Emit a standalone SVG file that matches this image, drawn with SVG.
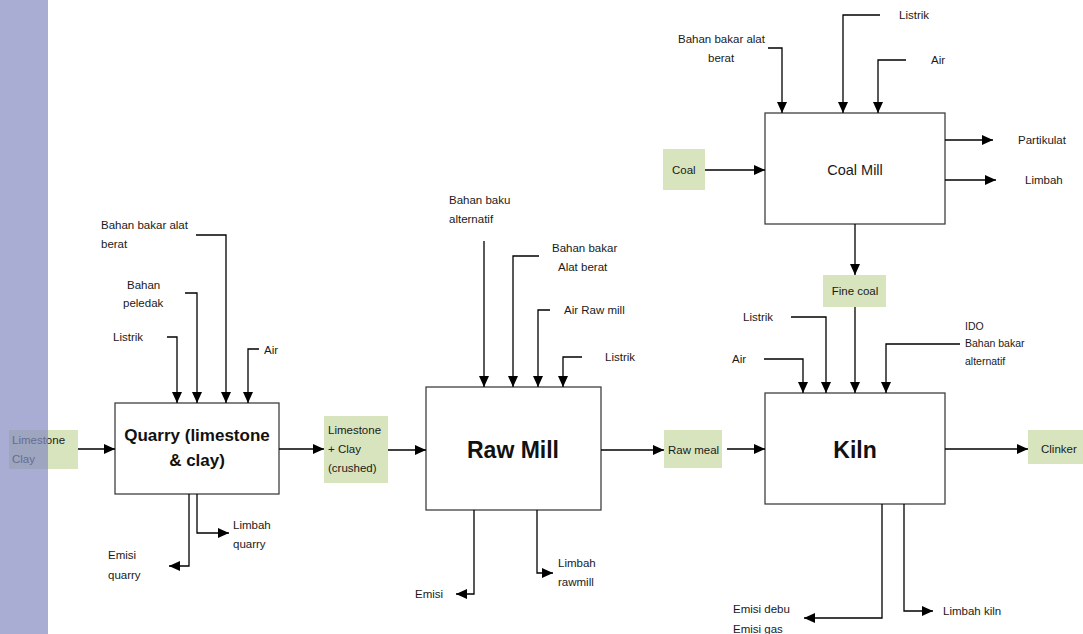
<svg xmlns="http://www.w3.org/2000/svg" width="1083" height="634" viewBox="0 0 1083 634">
  <style>
    .box { fill: #ffffff; stroke: #404040; stroke-width: 1.3; }
    .tag { fill: #d7e4bd; stroke: none; }
    .lbl { font-family: "Liberation Sans", Arial, sans-serif; font-size: 11.5px; fill: #1a1a1a; }
    .sm { font-size: 10.5px; }
    .big { font-family: "Liberation Sans", Arial, sans-serif; font-weight: bold; fill: #111; text-anchor: middle; }
    .mid { font-family: "Liberation Sans", Arial, sans-serif; font-size: 14.5px; fill: #1a1a1a; text-anchor: middle; }
    .flow { fill: none; stroke: #000; stroke-width: 1.3; marker-end: url(#head); }
  </style>
  <defs>
    <marker id="head" markerUnits="userSpaceOnUse" markerWidth="12" markerHeight="10" refX="11" refY="5" orient="auto">
      <path d="M0,0 L11,5 L0,10 z" fill="#000"/>
    </marker>
  </defs>

  <rect width="1083" height="634" fill="#ffffff"/>

  <!-- raw material input -->
  <g id="input-limestone-clay">
    <rect class="tag" x="9" y="430" width="69" height="39"/>
    <text class="lbl" x="12" y="444">Limestone</text>
    <text class="lbl" x="12" y="463">Clay</text>
  </g>

  <!-- left side band -->
  <rect x="0" y="0" width="48" height="634" fill="#848ac0" opacity="0.7"/>

  <!-- Quarry -->
  <g id="quarry">
    <rect class="box" x="115" y="403" width="164" height="91"/>
    <text class="big" font-size="17" x="197" y="441">Quarry (limestone</text>
    <text class="big" font-size="17" x="197" y="466">&amp; clay)</text>
  </g>
  <g id="quarry-labels">
    <text class="lbl" x="101" y="229">Bahan bakar alat</text>
    <text class="lbl" x="101" y="248">berat</text>
    <text class="lbl" x="127" y="289">Bahan</text>
    <text class="lbl" x="123" y="307">peledak</text>
    <text class="lbl" x="113" y="341">Listrik</text>
    <text class="lbl" x="264" y="354">Air</text>
    <text class="lbl" x="233" y="529">Limbah</text>
    <text class="lbl" x="233" y="548">quarry</text>
    <text class="lbl" x="108" y="559">Emisi</text>
    <text class="lbl" x="108" y="579">quarry</text>
  </g>

  <!-- crushed material -->
  <g id="crushed">
    <rect class="tag" x="324" y="416" width="64" height="67"/>
    <text class="lbl" x="328" y="434">Limestone</text>
    <text class="lbl" x="328" y="453">+ Clay</text>
    <text class="lbl" x="328" y="472">(crushed)</text>
  </g>

  <!-- Raw Mill -->
  <g id="raw-mill">
    <rect class="box" x="426" y="387" width="175" height="123"/>
    <text class="big" font-size="23" x="513" y="458">Raw Mill</text>
  </g>
  <g id="raw-mill-labels">
    <text class="lbl" x="449" y="204">Bahan baku</text>
    <text class="lbl" x="449" y="223">alternatif</text>
    <text class="lbl" x="552" y="252">Bahan bakar</text>
    <text class="lbl" x="558" y="271">Alat berat</text>
    <text class="lbl" x="564" y="314">Air Raw mill</text>
    <text class="lbl" x="605" y="361">Listrik</text>
    <text class="lbl" x="415" y="598">Emisi</text>
    <text class="lbl" x="558" y="567">Limbah</text>
    <text class="lbl" x="558" y="586">rawmill</text>
  </g>

  <!-- raw meal -->
  <g id="raw-meal">
    <rect class="tag" x="664" y="430" width="58" height="38"/>
    <text class="lbl" x="668" y="454">Raw meal</text>
  </g>

  <!-- Coal Mill -->
  <g id="coal">
    <rect class="tag" x="663" y="149" width="42" height="41"/>
    <text class="lbl" x="672" y="174">Coal</text>
  </g>
  <g id="coal-mill">
    <rect class="box" x="765" y="113" width="180" height="111"/>
    <text class="mid" x="855" y="175">Coal Mill</text>
  </g>
  <g id="coal-mill-labels">
    <text class="lbl" x="678" y="43">Bahan bakar alat</text>
    <text class="lbl" x="708" y="62">berat</text>
    <text class="lbl" x="899" y="19">Listrik</text>
    <text class="lbl" x="931" y="64">Air</text>
    <text class="lbl" x="1018" y="144">Partikulat</text>
    <text class="lbl" x="1025" y="184">Limbah</text>
  </g>

  <g id="fine-coal">
    <rect class="tag" x="823" y="275" width="63" height="32"/>
    <text class="lbl" x="855" y="295" text-anchor="middle">Fine coal</text>
  </g>

  <!-- Kiln -->
  <g id="kiln">
    <rect class="box" x="765" y="393" width="180" height="111"/>
    <text class="big" font-size="23" x="855" y="458">Kiln</text>
  </g>
  <g id="kiln-labels">
    <text class="lbl" x="743" y="321">Listrik</text>
    <text class="lbl" x="732" y="363">Air</text>
    <text class="lbl sm" x="965" y="330">IDO</text>
    <text class="lbl sm" x="965" y="347">Bahan bakar</text>
    <text class="lbl sm" x="965" y="365">alternatif</text>
    <text class="lbl" x="733" y="613">Emisi debu</text>
    <text class="lbl" x="733" y="633">Emisi gas</text>
    <text class="lbl" x="943" y="615">Limbah kiln</text>
  </g>

  <g id="clinker">
    <rect class="tag" x="1028" y="430" width="55" height="34"/>
    <text class="lbl" x="1041" y="453">Clinker</text>
  </g>

  <!-- connectors -->
  <g id="connectors">
    <!-- quarry -->
    <path class="flow" d="M78,449 H115"/>
    <path class="flow" d="M167,337 H177 V403"/>
    <path class="flow" d="M185,293 H197 V403"/>
    <path class="flow" d="M196,235 H226 V403"/>
    <path class="flow" d="M259,349 H248 V403"/>
    <path class="flow" d="M189,494 V566 H169"/>
    <path class="flow" d="M197,494 V533 H229"/>
    <path class="flow" d="M279,449 H324"/>
    <!-- raw mill -->
    <path class="flow" d="M388,450 H426"/>
    <path class="flow" d="M484,241 V387"/>
    <path class="flow" d="M539,256 H513 V387"/>
    <path class="flow" d="M550,310 H538 V387"/>
    <path class="flow" d="M582,357 H563 V387"/>
    <path class="flow" d="M474,510 V594 H456"/>
    <path class="flow" d="M537,510 V573 H553"/>
    <path class="flow" d="M601,450 H664"/>
    <!-- coal mill -->
    <path class="flow" d="M705,170 H765"/>
    <path class="flow" d="M768,48 H782 V113"/>
    <path class="flow" d="M880,15 H843 V113"/>
    <path class="flow" d="M906,60 H878 V113"/>
    <path class="flow" d="M945,140 H993"/>
    <path class="flow" d="M945,180 H996"/>
    <path class="flow" d="M855,224 V275"/>
    <!-- kiln -->
    <path class="flow" d="M727,449 H765"/>
    <path class="flow" d="M764,359 H803 V393"/>
    <path class="flow" d="M791,317 H826 V393"/>
    <path class="flow" d="M855,307 V393"/>
    <path class="flow" d="M960,344 H886 V393"/>
    <path class="flow" d="M945,449 H1028"/>
    <path class="flow" d="M882,504 V618 H804"/>
    <path class="flow" d="M904,504 V611 H933"/>
  </g>
</svg>
